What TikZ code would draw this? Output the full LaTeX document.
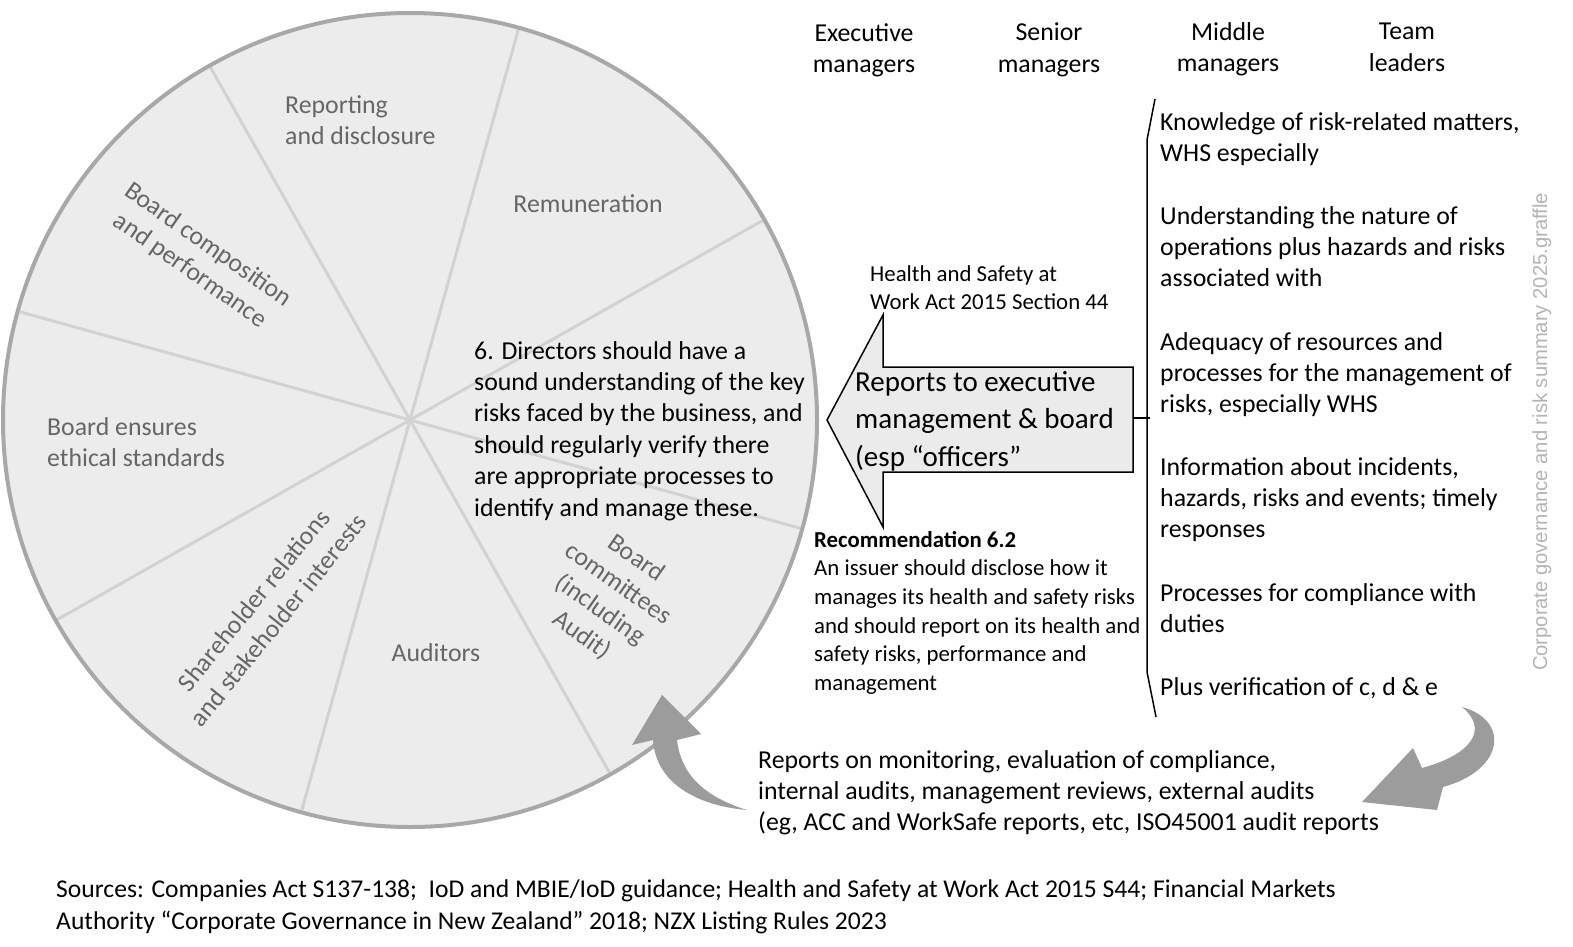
\documentclass[tikz,border=0pt]{standalone}
\usepackage{fontspec}
\setmainfont{Carlito}
\newfontfamily\wmfont{Liberation Sans}
\usepackage{tikz}
\definecolor{wheelfill}{HTML}{ECECEC}
\definecolor{wheelrim}{HTML}{A8A8A8}
\definecolor{spokegray}{HTML}{D2D2D2}
\definecolor{labelgray}{HTML}{666666}
\definecolor{swoosh}{HTML}{9C9C9C}
\definecolor{markgray}{HTML}{B4B4B4}
\definecolor{arrowfill}{HTML}{EBEBEB}
\tikzset{
  seglabel/.style={text=labelgray, font=\fontsize{25.8}{31.4}\selectfont, inner sep=0pt},
  bodytext/.style={font=\fontsize{25.8}{31.4}\selectfont, inner sep=0pt, align=left},
  smalltext/.style={font=\fontsize{22.8}{28.6}\selectfont, inner sep=0pt, align=left},
}

\begin{document}
\begin{tikzpicture}[x=1pt, y=-1pt]
        \fill[white] (0,0) rectangle (1573,947);
        \useasboundingbox (0,0) rectangle (1573,947);
        % governance wheel
        \coordinate (hub) at (410,420);
        \fill[wheelfill] (hub) circle (407);
        \foreach \a in {29.5,74.5,...,344.5}
            \draw[spokegray, line width=3pt] (hub) -- ++(-\a:405);
        \draw[wheelrim, line width=4pt] (hub) circle (407);
        \node[seglabel, align=left, anchor=north west] (report) at (285,95) {Reporting\\and disclosure};
        \node[seglabel] (remun) at (588,204) {Remuneration};
        \node[seglabel, align=center, rotate=-35] (boardcomp) at (199,258) {Board composition\\and performance};
        \node[seglabel, align=left, anchor=north west] (ethics) at (47,417) {Board ensures\\ethical standards};
        \node[seglabel, align=center, rotate=51] (sharehold) at (266,610) {Shareholder relations\\and stakeholder interests};
        \node[seglabel] (auditors) at (436,653) {Auditors};
        \node[seglabel, align=center, rotate=-35] (committees) at (609,597) {Board\\committees\\(including\\Audit)};
        \node[bodytext, anchor=north west] (principle) at (474,341) {6. Directors should have a\\sound understanding of the key\\risks faced by the business, and\\should regularly verify there\\are appropriate processes to\\identify and manage these.};

        % reporting arrow
        \draw[line width=1.5pt, fill=arrowfill] (1133,367) -- (883,367) -- (883,315) -- (827,420) -- (883,527) -- (883,472) -- (1133,472) -- cycle;
        \node[font=\fontsize{29}{37.5}\selectfont, inner sep=0pt, align=left, anchor=north west] (toboard) at (855,371) {Reports to executive\\management \& board\\(esp “officers”};
        \node[smalltext, anchor=north west] (hswa) at (870,265) {Health and Safety at\\Work Act 2015 Section 44};
        \node[smalltext, anchor=north west] (nzxrec) at (814,531) {\textbf{Recommendation 6.2}\\An issuer should disclose how it\\manages its health and safety risks\\and should report on its health and\\safety risks, performance and\\management};

        % bracket
        \coordinate (tail) at (1133,418);
        \coordinate (brtop) at (1155,99);
        \coordinate (brmid) at (1150,418);
        \coordinate (brbot) at (1156,717);
        \draw[line width=1.5pt] (brtop) -- (1147,140) -- (1147,672) -- (brbot);
        \draw[line width=1.5pt] (tail) -- (brmid);

        % manager levels
        \node[bodytext, align=center, anchor=north] (execmgr) at (864,23) {Executive\\managers};
        \node[bodytext, align=center, anchor=north] (seniormgr) at (1049,23) {Senior\\managers};
        \node[bodytext, align=center, anchor=north] (middlemgr) at (1228,22) {Middle\\managers};
        \node[bodytext, align=center, anchor=north] (teamlead) at (1407,23) {Team\\leaders};

        % officer duties
        \node[bodytext, anchor=north west] (dutya) at (1160,112) {Knowledge of risk-related matters,\\WHS especially};
        \node[bodytext, anchor=north west] (dutyb) at (1160,206) {Understanding the nature of\\operations plus hazards and risks\\associated with};
        \node[bodytext, anchor=north west] (dutyc) at (1160,332) {Adequacy of resources and\\processes for the management of\\risks, especially WHS};
        \node[bodytext, anchor=north west] (dutyd) at (1160,457) {Information about incidents,\\hazards, risks and events; timely\\responses};
        \node[bodytext, anchor=north west] (dutye) at (1160,583) {Processes for compliance with\\duties};
        \node[bodytext, anchor=north west] (dutyf) at (1160,677) {Plus verification of c, d \& e};

        % feedback loop
        \fill[swoosh] (1462,707) .. controls (1510,720) and (1505,770) .. (1443,787) -- (1437,810) -- (1362,802) -- (1413,748) -- (1422,768) .. controls (1470,755) and (1490,730) .. cycle;
        \fill[swoosh] (747,810) .. controls (700,806) and (656,785) .. (653,740) -- (632,745) -- (662,695) -- (701,734) -- (677,740) .. controls (681,775) and (705,797) .. cycle;
        \node[bodytext, anchor=north west] (audits) at (758,750) {Reports on monitoring, evaluation of compliance,\\internal audits, management reviews, external audits\\(eg, ACC and WorkSafe reports, etc, ISO45001 audit reports};

        \node[font=\fontsize{25.6}{31.4}\selectfont, inner sep=0pt, align=left, anchor=north west] (sources) at (56,880) {Sources: Companies Act S137-138;\ \ IoD and MBIE/IoD guidance; Health and Safety at Work Act 2015 S44; Financial Markets\\Authority “Corporate Governance in New Zealand” 2018; NZX Listing Rules 2023};
        \node[rotate=90, text=markgray, font=\wmfont\fontsize{20.2}{24}\selectfont, inner sep=0pt] (filename) at (1542,432) {Corporate governance and risk summary 2025.graffle};
    \end{tikzpicture}
\end{document}
